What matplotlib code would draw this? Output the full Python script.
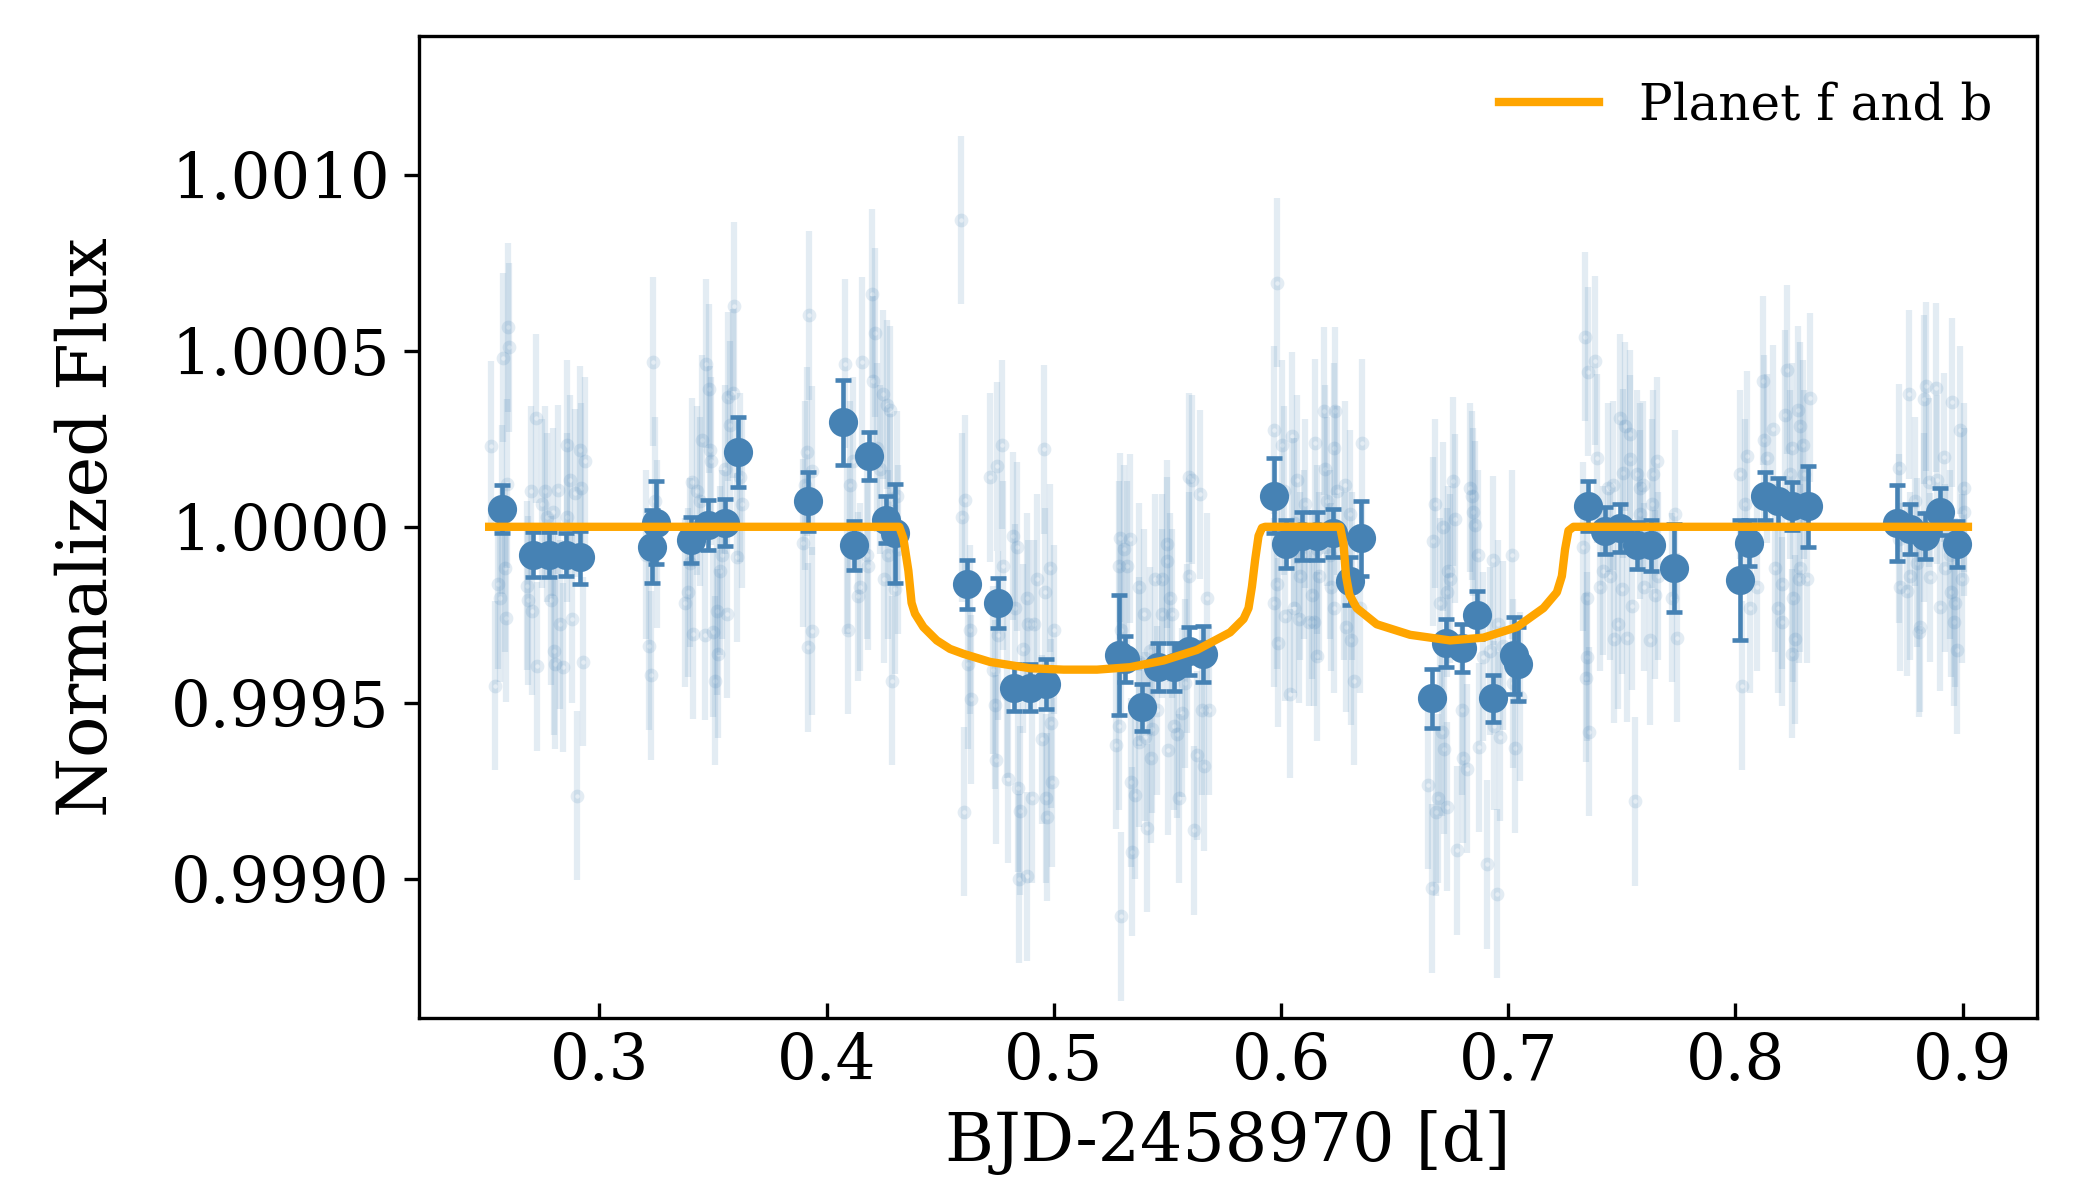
import matplotlib
matplotlib.use("Agg")
import matplotlib.pyplot as plt
from matplotlib.ticker import FormatStrFormatter, FixedLocator
import numpy as np

plt.rcParams['font.family'] = ['DejaVu Serif']

# ---- faint (unbinned) photometry: time [d] and flux offset [ppm] ----
faint_time = [
    # group A
    0.2525, 0.2540, 0.2554, 0.2563, 0.2572, 0.2578, 0.2584, 0.2589, 0.2595, 0.2600, 0.2604,
    # group B
    0.2680, 0.2688, 0.2699, 0.2702, 0.2720, 0.2724, 0.2746, 0.2761, 0.2768, 0.2787, 0.2798, 0.2801, 0.2805,
    0.2820, 0.2827, 0.2842, 0.2856, 0.2859, 0.2871, 0.2878, 0.2893, 0.2900, 0.2915, 0.2918, 0.2930, 0.2937,
    # group C
    0.3206, 0.3217, 0.3226, 0.3235, 0.3247, 0.3255,
    # group D
    0.3377, 0.3392, 0.3399, 0.3407, 0.3411, 0.3429, 0.3443, 0.3451, 0.3465, 0.3470, 0.3484, 0.3487, 0.3490,
    0.3502, 0.3509, 0.3517, 0.3524, 0.3531, 0.3539, 0.3553, 0.3561, 0.3568, 0.3575, 0.3590, 0.3594, 0.3605,
    0.3619, 0.3627,
    # group E
    0.3898, 0.3905, 0.3912, 0.3920, 0.3924, 0.3934, 0.3937,
    # group F
    0.4081, 0.4088, 0.4096, 0.4103, 0.4118, 0.4140, 0.4147, 0.4154, 0.4176, 0.4184, 0.4198, 0.4203, 0.4213,
    0.4220, 0.4235, 0.4250, 0.4252, 0.4264, 0.4272, 0.4279, 0.4281, 0.4287, 0.4301, 0.4308, 0.4316,
    # group G
    0.4592, 0.4595, 0.4606, 0.4609, 0.4624, 0.4631, 0.4634, 0.4719, 0.4734, 0.4741, 0.4746, 0.4749, 0.4756,
    0.4774, 0.4778, 0.4793, 0.4800, 0.4822, 0.4829, 0.4837, 0.4844, 0.4847, 0.4851, 0.4866, 0.4881, 0.4884,
    0.4888,
    0.4903, 0.4911, 0.4925, 0.4947, 0.4955, 0.4962, 0.4965, 0.4969, 0.4984, 0.4987, 0.4991, 0.4999,
    # group H
    0.5274, 0.5285, 0.5287, 0.5292, 0.5294, 0.5296, 0.5307, 0.5321, 0.5336, 0.5338, 0.5343, 0.5358, 0.5373,
    0.5375, 0.5377, 0.5395, 0.5402, 0.5409, 0.5424, 0.5426, 0.5431, 0.5446, 0.5453, 0.5475, 0.5477, 0.5497,
    0.5499, 0.5501, 0.5512, 0.5519, 0.5527, 0.5541, 0.5549, 0.5563, 0.5578, 0.5585, 0.5593, 0.5597, 0.5608,
    0.5615, 0.5630, 0.5644, 0.5651, 0.5659, 0.5673, 0.5681,
    # group I
    0.5967, 0.5969, 0.5982, 0.5984, 0.5986, 0.6004, 0.6011, 0.6018, 0.6040, 0.6048, 0.6055, 0.6057, 0.6070,
    0.6077, 0.6084, 0.6099, 0.6106, 0.6121,
    0.6135, 0.6143, 0.6150, 0.6157, 0.6159, 0.6165, 0.6187, 0.6194, 0.6201, 0.6216, 0.6218, 0.6231, 0.6233,
    0.6238, 0.6245, 0.6275, 0.6282, 0.6284, 0.6304, 0.6306, 0.6311, 0.6319, 0.6348, 0.6355,
    # group J
    0.6649, 0.6663, 0.6671, 0.6678, 0.6680, 0.6693, 0.6700, 0.6707, 0.6715, 0.6717, 0.6729, 0.6731, 0.6737,
    0.6744, 0.6759, 0.6766, 0.6773, 0.6795, 0.6803, 0.6817, 0.6832, 0.6839, 0.6847, 0.6854, 0.6869, 0.6871,
    0.6891, 0.6905, 0.6920, 0.6935, 0.6937, 0.6950, 0.6957, 0.6964, 0.6979, 0.7016, 0.7023, 0.7030, 0.7052,
    # group K
    0.7331, 0.7338, 0.7340, 0.7346, 0.7348, 0.7353, 0.7355,
    0.7382, 0.7389, 0.7404, 0.7419, 0.7441, 0.7448, 0.7463, 0.7465, 0.7485, 0.7492, 0.7499, 0.7507, 0.7514,
    0.7521, 0.7536, 0.7538, 0.7543, 0.7558, 0.7565, 0.7580, 0.7582, 0.7595, 0.7597, 0.7624, 0.7631, 0.7639,
    0.7646, 0.7653, 0.7661, 0.7719, 0.7734, 0.7741,
    # group L
    0.8020, 0.8027, 0.8042, 0.8049, 0.8064, 0.8094, 0.8123, 0.8125, 0.8138, 0.8167, 0.8174, 0.8189, 0.8204,
    0.8206, 0.8218, 0.8226, 0.8240, 0.8248, 0.8250, 0.8255, 0.8262, 0.8277, 0.8279, 0.8284, 0.8286, 0.8299,
    0.8301, 0.8314, 0.8328,
    # group M
    0.8718, 0.8720, 0.8722, 0.8754, 0.8762, 0.8769, 0.8791, 0.8798, 0.8806, 0.8813, 0.8828, 0.8830, 0.8839,
    0.8850, 0.8857, 0.8883, 0.8886, 0.8901, 0.8916, 0.8923, 0.8945, 0.8947, 0.8952, 0.8960, 0.8967, 0.8975,
    0.8989, 0.8996, 0.9004, 0.9006,
]
faint_ppm = [
    230, -452, -163, -201, 50, 481, -117, -259, 123, 567, 510,
    -168, -209, 103, -239, 309, -396, 65, 103, 27, -209, 42, -353, -391,
    106, -277, -399, 233, 27, 134, -262, 96, -764, 217, 111, -384, 187,
    -79, -338, -422, 469, 73, -49,
    -216, -186, -102, 126, -305, 103, 73, 248, -308, 464, 392, 217, 187,
    -300, -437, -239, -361, -125, -79, 164, -247, 370, 289, 380, 627, -87,
    141, 65,
    -46, 118, 213, -343, 601, 160, -296,
    464, -64, -292, 118, 187, -198, -171, 469, -79, -110, 662, 415, 552,
    225, 164, 377, -148, 347, -79, 332, 80, -437, -178, 88, -64,
    872, 27, -810, 77, -391, -292, -490, 141, -407, -506, -662, 172, -308,
    233, -110, -475, -716, -26, -232, -57, -742, -1000, -807, -346, -201, -993,
    -277,
    -772, -277, -148, -604, 220, -186, -772, -825, -117, -559, -726, -292,
    -620, -110, -566, -31, -292, -1107, -64, -110, -34, -726, -924, -761, -171,
    -384, -612, -247, -597, -856, -353, -658, -574, -148, -521, -148, -247, -49,
    -98, -635, -201, -247, -566, -589, -772, -528, -445, -346, -140, 141, 134,
    -863, -650, 93, -521, -681, -201, -521,
    275, -216, 694, -163, -330, 233, 103, -254, -475, 258, 12, -232, 134,
    -262, -140, -79, 65, -270,
    -193, -270, 237, -64, -368, -140, 329, 164, 73, -79, -171, 225, -232,
    329, 103, -140, 118, -285, 35, -323, -140, -437, -232, 237,
    -734, -1028, -41, 65, -810, -772, -216, -582, 0, -632, -186, -795, -125,
    -148, 129, 23, -920, -521, -658, -688, 111, 88, 42, 4, -79, -627,
    -369, -959, -353, -95, -566, -1043, -277, -597, -338, -79, -445, -630, -483,
    -57, 540, -429, -201, -369, 441, -582,
    472, 195, -171, -125, 111, -140, 118, -318, -277, 309, -178, 152, 286,
    -315, 263, 192, -224, -780, 149, 111, 35, 118, -171, -323, 65, 149,
    -193, 187, -140, -201, 35, -315,
    149, -452, 65, 202, -232, -171, 415, 248, 195, 278, -117, -232, -163,
    -270, 319, 446, 149, 225, -361, -201, -320, 332, -148, 286, -117, 233,
    149, -148, 367,
    167, -34, -171, -183, 377, -140, 73, -102, -300, -285, 362, 27, 400,
    126, -143, 395, 134, -228, 198, -117, -79, -186, 354, -270, -216, -349,
    275, -148, 111, 42,
]
faint_err_ppm = 240

# ---- 10-min binned photometry ----
bin_time = [0.2573, 0.2707, 0.2780, 0.2854, 0.2915, 0.3231, 0.3250, 0.3404, 0.3476, 0.3555,
            0.3609, 0.3920, 0.4074, 0.4122, 0.4187, 0.4262, 0.4301, 0.4617, 0.4756, 0.4826,
            0.4896, 0.4966, 0.5285, 0.5314, 0.5388, 0.5459, 0.5527, 0.5595, 0.5658, 0.5971,
            0.6020, 0.6092, 0.6160, 0.6229, 0.6304, 0.6353, 0.6666, 0.6724, 0.6796, 0.6862,
            0.6932, 0.7024, 0.7045, 0.7352, 0.7426, 0.7492, 0.7565, 0.7628, 0.7731, 0.8020,
            0.8061, 0.8130, 0.8189, 0.8250, 0.8320, 0.8713, 0.8766, 0.8833, 0.8899, 0.8974]
bin_ppm = [50, -79, -79, -79, -87, -56, 12, -38, 5, 12,
           213, 73, 297, -53, 202, 20, -18, -163, -216, -457,
           -457, -447, -365, -376, -513, -399, -399, -353, -361, 88,
           -49, -26, -26, -18, -155, -33, -487, -330, -345, -251,
           -487, -365, -391, 58, -11, -3, -53, -53, -117, -152,
           -46, 88, 72, 58, 58, 12, -6, -26, 43, -49]
bin_err_ppm = [68, 65, 65, 61, 76, 104, 118, 65, 70, 66,
               99, 84, 120, 69, 68, 67, 141, 70, 71, 66,
               66, 72, 171, 66, 67, 68, 68, 68, 80, 107,
               68, 68, 68, 68, 68, 106, 84, 68, 68, 68,
               67, 110, 105, 71, 67, 68, 68, 72, 124, 171,
               66, 68, 68, 68, 116, 108, 70, 65, 67, 65]

# ---- transit model (planet f and b) ----
model_time = [0.2515, 0.4320, 0.4338, 0.4360, 0.4374, 0.4389, 0.4426, 0.4485, 0.4543, 0.4602,
              0.4719, 0.4895, 0.5043, 0.5190, 0.5336, 0.5483, 0.5630, 0.5776, 0.5835, 0.5857,
              0.5872, 0.5886, 0.5901, 0.5916, 0.5930, 0.6260, 0.6275, 0.6286, 0.6301, 0.6333,
              0.6421, 0.6568, 0.6744, 0.6891, 0.7038, 0.7155, 0.7214, 0.7236, 0.7250, 0.7265,
              0.7287, 0.9023]
model_ppm = [0, 0, -33, -125, -216, -247, -285, -323, -347, -361,
             -384, -402, -406, -406, -399, -380, -350, -300, -262, -231,
             -170, -94, -26, -3, 0, 0, -49, -140, -193, -231,
             -277, -307, -323, -315, -285, -231, -186, -140, -64, -11,
             0, 0]

x_ticks = [0.3, 0.4, 0.5, 0.6, 0.7, 0.8, 0.9]
y_ticks = [0.9990, 0.9995, 1.0000, 1.0005, 1.0010]

ft = np.array(faint_time)
ff = 1.0 + np.array(faint_ppm) * 1e-6
bt = np.array(bin_time)
bf = 1.0 + np.array(bin_ppm) * 1e-6
be = np.array(bin_err_ppm) * 1e-6
mt = np.array(model_time)
mf = 1.0 + np.array(model_ppm) * 1e-6

fig = plt.figure(figsize=(7, 4), dpi=300)
ax = fig.add_axes([0.1995, 0.152, 0.7705, 0.818])

blue = '#4682b4'
ax.errorbar(ft, ff, yerr=faint_err_ppm * 1e-6, fmt='o', color=blue, alpha=0.15,
            ms=2.2, mfc='none', mew=1.1, elinewidth=1.5, zorder=1)
ax.errorbar(bt, bf, yerr=be, fmt='o', color=blue, ms=6, elinewidth=1.1,
            capsize=2, capthick=1.1, zorder=2)
ax.plot(mt, mf, color='orange', lw=2, label='Planet f and b', zorder=3,
        solid_joinstyle='round')

ax.set_xlim(0.2206, 0.9327)
ax.set_ylim(0.998605, 1.001395)
ax.xaxis.set_major_locator(FixedLocator(x_ticks))
ax.yaxis.set_major_locator(FixedLocator(y_ticks))
ax.xaxis.set_major_formatter(FormatStrFormatter('%.1f'))
ax.yaxis.set_major_formatter(FormatStrFormatter('%.4f'))
ax.tick_params(axis='both', labelsize=15)
ax.tick_params(axis='x', direction='in')
ax.set_xlabel('BJD-2458970 [d]', fontsize=16)
ax.set_ylabel('Normalized Flux', fontsize=16.5, labelpad=12)
ax.legend(loc='upper right', frameon=False, fontsize=12)

fig.savefig('out.png', dpi=300)
